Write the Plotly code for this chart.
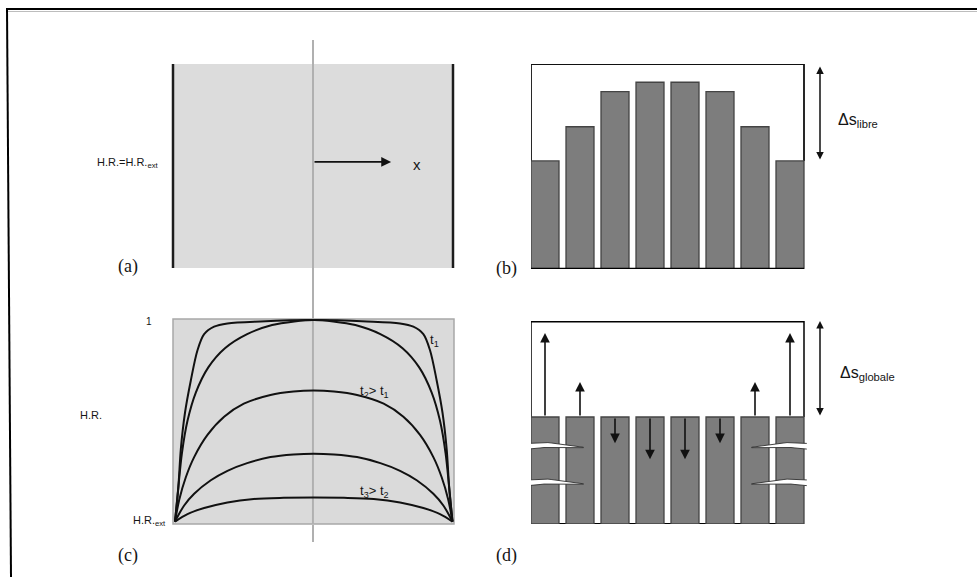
import plotly.graph_objects as go

W, H = 977, 577

# ---------------- data ----------------
# (b) free shrinkage of each slice (fraction of the reference height)
slice_pos = [1, 2, 3, 4, 5, 6, 7, 8]
free_shrink = [0.527, 0.694, 0.865, 0.911, 0.911, 0.865, 0.694, 0.527]
free_ref = 1.0

# (d) restrained slices: common height and target of each strain arrow
restrained = [0.527, 0.527, 0.527, 0.527, 0.527, 0.527, 0.527, 0.527]
arrow_tips = [0.941, 0.700, 0.398, 0.319, 0.319, 0.398, 0.700, 0.941]
global_ref = 1.0
crack_levels = [0.38, 0.20]

# (c) relative humidity profiles across the thickness at successive times
c1_x = [0, 0.012, 0.021, 0.036, 0.057, 0.081, 0.105, 0.141, 0.189, 0.308, 0.5,
        0.692, 0.811, 0.859, 0.895, 0.919, 0.943, 0.964, 0.979, 0.988, 1]
c1_y = [0, 0.17, 0.36, 0.54, 0.70, 0.85, 0.93, 0.967, 0.983, 0.993, 1.0,
        0.993, 0.983, 0.967, 0.93, 0.85, 0.70, 0.54, 0.36, 0.17, 0]
c2_x = [0, 0.012, 0.025, 0.045, 0.075, 0.12, 0.18, 0.26, 0.35, 0.43, 0.5,
        0.57, 0.65, 0.74, 0.82, 0.88, 0.925, 0.955, 0.975, 0.988, 1]
c2_y = [0, 0.17, 0.34, 0.50, 0.64, 0.765, 0.86, 0.93, 0.975, 0.993, 1.0,
        0.993, 0.975, 0.93, 0.86, 0.765, 0.64, 0.50, 0.34, 0.17, 0]
c3_x = [0, 0.0155, 0.039, 0.069, 0.117, 0.177, 0.248, 0.344, 0.427, 0.5,
        0.573, 0.656, 0.752, 0.823, 0.883, 0.931, 0.961, 0.9845, 1]
c3_y = [0, 0.11, 0.22, 0.32, 0.43, 0.52, 0.585, 0.628, 0.645, 0.65,
        0.645, 0.628, 0.585, 0.52, 0.43, 0.32, 0.22, 0.11, 0]
c4_x = [0, 0.033, 0.069, 0.129, 0.189, 0.26, 0.344, 0.427, 0.5,
        0.573, 0.656, 0.74, 0.811, 0.871, 0.931, 0.967, 1]
c4_y = [0, 0.08, 0.138, 0.205, 0.252, 0.29, 0.32, 0.333, 0.337,
        0.333, 0.32, 0.29, 0.252, 0.205, 0.138, 0.08, 0]
c5_x = [0, 0.045, 0.105, 0.189, 0.284, 0.391, 0.5, 0.609, 0.716, 0.811, 0.895, 0.955, 1]
c5_y = [0, 0.037, 0.067, 0.095, 0.112, 0.118, 0.12, 0.118, 0.112, 0.095, 0.067, 0.037, 0]
profiles = [(c1_x, c1_y), (c2_x, c2_y), (c3_x, c3_y), (c4_x, c4_y), (c5_x, c5_y)]

# (a) drying direction arrow
x_arrow = [0.5, 0.779]
x_arrow_level = 0.52

# ---------------- helpers ----------------
def px(x):
    return x / W


def py(y):
    return 1 - y / H


BAR_W = 0.8
PITCH = 35.0  # pixels per slice
X0_PX = 531.0
X_RANGE = [0.6, 0.6 + (850 - X0_PX) / PITCH]
SANS = "Liberation Sans, Arial, sans-serif"
SERIF = "Liberation Serif, Times New Roman, serif"

fig = go.Figure()

# ---------------- panel (b) ----------------
fig.add_trace(go.Bar(
    x=slice_pos, y=free_shrink, width=BAR_W, xaxis="x2", yaxis="y2",
    marker=dict(color="#7d7d7d", line=dict(color="#444444", width=1.3)),
    showlegend=False, hoverinfo="skip"))

# ---------------- panel (d) ----------------
fig.add_trace(go.Bar(
    x=slice_pos, y=restrained, width=BAR_W, xaxis="x4", yaxis="y4",
    marker=dict(color="#7d7d7d", line=dict(color="#444444", width=1.3)),
    showlegend=False, hoverinfo="skip"))

# cracks through the outer slices (tapered white openings)
left_edge = slice_pos[0] - BAR_W / 2 - 0.08
right_edge = slice_pos[-1] + BAR_W / 2 + 0.08
n = 14
for lvl in crack_levels:
    for start, tip in ((left_edge, slice_pos[1] + 0.1), (right_edge, slice_pos[-2] - 0.1)):
        xs_top, ys_top, xs_bot, ys_bot = [], [], [], []
        for i in range(n + 1):
            t = i / n
            xx = start + (tip - start) * t
            half = 0.013 * (1 - t ** 1.5) + 0.001
            bow = 0.01 * (1 - abs(2 * t - 0.7))
            xs_top.append(xx)
            ys_top.append(lvl + bow + half)
            xs_bot.append(xx)
            ys_bot.append(lvl + bow - half)
        fig.add_trace(go.Scatter(
            x=xs_top + xs_bot[::-1], y=ys_top + ys_bot[::-1], mode="lines",
            fill="toself", fillcolor="white", line=dict(color="#2e2e2e", width=0.9),
            xaxis="x4", yaxis="y4", showlegend=False, hoverinfo="skip"))

# ---------------- panel (c) ----------------
for xs, ys in profiles:
    fig.add_trace(go.Scatter(
        x=xs, y=ys, mode="lines", line=dict(color="#111111", width=2.0, shape="spline", smoothing=0.9),
        xaxis="x3", yaxis="y3", showlegend=False, hoverinfo="skip"))

# ---------------- shapes ----------------
shapes = []
# outer frame (top and left rule)
shapes.append(dict(type="line", xref="paper", yref="paper", x0=px(6), x1=1.0, y0=py(9), y1=py(9),
                   line=dict(color="#000000", width=2), layer="above"))
shapes.append(dict(type="line", xref="paper", yref="paper", x0=px(6), x1=1.0, y0=py(11.5), y1=py(11.5),
                   line=dict(color="#bdbdbd", width=1), layer="above"))
shapes.append(dict(type="line", xref="paper", yref="paper", x0=px(7), x1=px(11), y0=py(8), y1=0,
                   line=dict(color="#000000", width=2), layer="above"))

# (a) grey slab with its two drying faces
shapes.append(dict(type="rect", xref="x domain", yref="y domain", x0=0, x1=1, y0=0, y1=1,
                   fillcolor="#dcdcdc", line=dict(width=0), layer="below"))
for xv in (0, 1):
    shapes.append(dict(type="line", xref="x domain", yref="y domain", x0=xv, x1=xv, y0=0, y1=1,
                       line=dict(color="#1c1c1c", width=2.5), layer="above"))

# (c) grey slab
shapes.append(dict(type="rect", xref="x3 domain", yref="y3 domain", x0=0, x1=1, y0=0, y1=1,
                   fillcolor="#dadada", line=dict(color="#a8a8a8", width=1.5), layer="below"))
# symmetry axis: inside (c) below the curves, elsewhere on top
shapes.append(dict(type="line", xref="x3 domain", yref="y3 domain", x0=0.498, x1=0.498, y0=0, y1=1,
                   line=dict(color="#b0b0b0", width=2), layer="below"))
shapes.append(dict(type="line", xref="paper", yref="paper", x0=px(313), x1=px(313), y0=py(40), y1=py(319),
                   line=dict(color="#b0b0b0", width=2), layer="above"))
shapes.append(dict(type="line", xref="paper", yref="paper", x0=px(313), x1=px(313), y0=py(525), y1=py(542),
                   line=dict(color="#b0b0b0", width=2), layer="above"))

# (b) reference outline and base
bl = slice_pos[0] - BAR_W / 2
br = slice_pos[-1] + BAR_W / 2
shapes.append(dict(type="path", xref="x2", yref="y2",
                   path=f"M {bl},{free_shrink[0]} L {bl},{free_ref} L {br},{free_ref} L {br},{free_shrink[-1]}",
                   line=dict(color="#111111", width=1.8), layer="below"))
shapes.append(dict(type="line", xref="x2", yref="y2", x0=bl, x1=br, y0=0, y1=0,
                   line=dict(color="#000000", width=2.5), layer="above"))

# (d) reference outline and base
shapes.append(dict(type="path", xref="x4", yref="y4",
                   path=f"M {bl},{restrained[0]} L {bl},{global_ref} L {br},{global_ref} L {br},{restrained[-1]}",
                   line=dict(color="#111111", width=1.6), layer="below"))
shapes.append(dict(type="line", xref="x4", yref="y4", x0=bl, x1=br, y0=global_ref, y1=global_ref,
                   line=dict(color="#000000", width=3.2), layer="above"))
shapes.append(dict(type="line", xref="x4", yref="y4", x0=bl, x1=br, y0=0, y1=0,
                   line=dict(color="#000000", width=2.2), layer="below"))

# ---------------- annotations ----------------
ann = []


def text(x, y, s, size=11, xanchor="center", family=SANS, color="#151515"):
    ann.append(dict(x=px(x), y=py(y), xref="paper", yref="paper", text=s, showarrow=False,
                    xanchor=xanchor, yanchor="middle", font=dict(family=family, size=size, color=color)))


# (a)
ann.append(dict(x=x_arrow[1], y=x_arrow_level, ax=x_arrow[0], ay=x_arrow_level,
                xref="x", yref="y", axref="x", ayref="y", text="", showarrow=True,
                arrowhead=2, arrowsize=1.1, arrowwidth=1.8, arrowcolor="#111111", standoff=0))
text(417, 164, "x", size=15)
text(161, 163, "H.R.=H.R.<sub>ext</sub>", size=11, xanchor="right")
text(128, 266, "(a)", size=18, family=SERIF)

# (b)
dx = 0.6 + (820 - X0_PX) / PITCH
ann.append(dict(x=dx, y=free_ref - 0.012, ax=dx, ay=min(free_shrink), xref="x2", yref="y2",
                axref="x2", ayref="y2", text="", showarrow=True, arrowside="end+start",
                arrowhead=2, arrowsize=1.0, arrowwidth=1.5, arrowcolor="#111111", standoff=0, startstandoff=0))
text(836, 120, "Δs<sub>libre</sub>", size=16, xanchor="left")
text(506, 268, "(b)", size=18, family=SERIF)

# (c)
text(154, 321, "1", size=10, xanchor="right")
text(78, 415, "H.R.", size=11, xanchor="left")
text(168, 521, "H.R.<sub>ext</sub>", size=11, xanchor="right")
text(434, 340, "t<sub>1</sub>", size=13)
text(374, 391, "t<sub>2</sub>> t<sub>1</sub>", size=13)
text(374, 491, "t<sub>3</sub>> t<sub>2</sub>", size=13)
text(128, 555, "(c)", size=18, family=SERIF)

# (d)
for xp, base, tip in zip(slice_pos, restrained, arrow_tips):
    ann.append(dict(x=xp, y=tip, ax=xp, ay=base, xref="x4", yref="y4", axref="x4", ayref="y4",
                    text="", showarrow=True, arrowhead=2, arrowsize=1.2, arrowwidth=1.6,
                    arrowcolor="#111111", standoff=0))
ann.append(dict(x=dx, y=global_ref, ax=dx, ay=restrained[0], xref="x4", yref="y4",
                axref="x4", ayref="y4", text="", showarrow=True, arrowside="end+start",
                arrowhead=2, arrowsize=1.0, arrowwidth=1.5, arrowcolor="#111111", standoff=0, startstandoff=0))
text(838, 373, "Δs<sub>globale</sub>", size=16, xanchor="left")
text(506, 555, "(d)", size=18, family=SERIF)

# ---------------- axes ----------------
def hidden(domain, rng):
    return dict(domain=domain, range=rng, visible=False, showgrid=False, zeroline=False, fixedrange=True)


layout = dict(
    width=W, height=H, margin=dict(l=0, r=0, t=0, b=0),
    paper_bgcolor="white", plot_bgcolor="white",
    shapes=shapes, annotations=ann, bargap=0,
    xaxis=hidden([px(173), px(453)], [0, 1]),
    yaxis=hidden([py(268), py(64)], [0, 1]),
    xaxis2=hidden([px(X0_PX), px(850)], X_RANGE),
    yaxis2=hidden([py(269), py(64)], [0, 1]),
    xaxis3=hidden([px(173), px(454)], [-0.0072, 1.0054]),
    yaxis3=hidden([py(524), py(319)], [-0.012, 1.005]),
    xaxis4=hidden([px(X0_PX), px(850)], X_RANGE),
    yaxis4=hidden([py(524), py(321)], [0, 1]),
)
layout["xaxis2"]["anchor"] = "y2"
layout["yaxis2"]["anchor"] = "x2"
layout["xaxis3"]["anchor"] = "y3"
layout["yaxis3"]["anchor"] = "x3"
layout["xaxis4"]["anchor"] = "y4"
layout["yaxis4"]["anchor"] = "x4"
fig.update_layout(**layout)

fig.write_html("out.html", config=dict(displayModeBar=False, staticPlot=True))
